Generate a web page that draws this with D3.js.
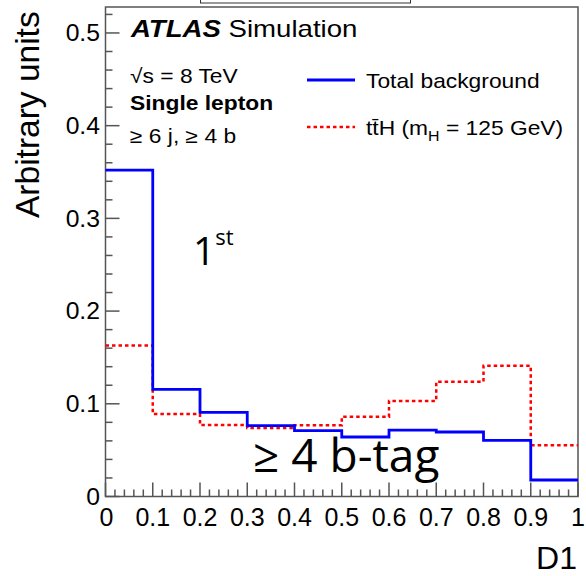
<!DOCTYPE html>
<html><head><meta charset="utf-8">
<script src="https://cdn.jsdelivr.net/npm/d3@7"></script>
<style>html,body{margin:0;padding:0;background:#fff;} svg{display:block;}</style>
</head><body>
<script>
// ---- data ----
const binEdges = [0, 0.1, 0.2, 0.3, 0.4, 0.5, 0.6, 0.7, 0.8, 0.9, 1.0];
const totalBackground = [0.352, 0.1156, 0.0908, 0.0764, 0.071, 0.0642, 0.0717, 0.0696, 0.0606, 0.0178];
const ttH = [0.163, 0.089, 0.0771, 0.0739, 0.0768, 0.086, 0.103, 0.1238, 0.141, 0.0552];
const xTicks = [0, 0.1, 0.2, 0.3, 0.4, 0.5, 0.6, 0.7, 0.8, 0.9, 1];
const xTickLabels = ["0", "0.1", "0.2", "0.3", "0.4", "0.5", "0.6", "0.7", "0.8", "0.9", "1"];
const yTicks = [0, 0.1, 0.2, 0.3, 0.4, 0.5];
const yTickLabels = ["0", "0.1", "0.2", "0.3", "0.4", "0.5"];
const legendLabels = ["Total background", "ttH"];

const W = 586, H = 576;
const L = 105.5, R = 578, T = 7, B = 496.5;
const svg = d3.select("body").append("svg").attr("width", W).attr("height", H);
const x = d3.scaleLinear().domain([0, 1]).range([L, R]);
const y = d3.scaleLinear().domain([0, 0.528]).range([B, T]);
const FONT = "'Liberation Sans', Arial, Helvetica, sans-serif";
const SX = 1.14;

function stext(g, tx, ty, str, size, opts = {}) {
  const t = g.append("text")
    .attr("transform", `translate(${tx},${ty}) scale(${opts.sx || SX},1)`)
    .attr("font-family", opts.family || FONT)
    .attr("font-size", size)
    .attr("fill", "#000")
    .attr("text-anchor", opts.anchor || "start")
    .attr("dominant-baseline", opts.baseline || "auto");
  if (opts.weight) t.attr("font-weight", opts.weight);
  if (opts.style) t.attr("font-style", opts.style);
  if (str !== null) t.text(str);
  return t;
}

// top box remnant
svg.append("rect").attr("x", 200.5).attr("y", -6).attr("width", 210).attr("height", 9)
  .attr("fill", "none").attr("stroke", "#333").attr("stroke-width", 1);

// frame
const axisCol = "#555";
svg.append("rect").attr("x", L).attr("y", T).attr("width", R - L).attr("height", B - T)
  .attr("fill", "none").attr("stroke", axisCol).attr("stroke-width", 1.5);

// y axis ticks
const yMinor = d3.range(0, 0.5281, 0.02);
svg.append("g").selectAll("line").data(yMinor).join("line")
  .attr("x1", L).attr("x2", d => L + (Math.abs(d * 10 - Math.round(d * 10)) < 1e-6 ? 14 : 7))
  .attr("y1", d => y(d)).attr("y2", d => y(d))
  .attr("stroke", axisCol).attr("stroke-width", 1.5);
// x axis ticks
const xMinor = d3.range(0, 1.0001, 0.02);
svg.append("g").selectAll("line").data(xMinor).join("line")
  .attr("x1", d => x(d)).attr("x2", d => x(d))
  .attr("y1", B).attr("y2", d => B - (Math.abs(d * 10 - Math.round(d * 10)) < 1e-6 ? 14 : 7))
  .attr("stroke", axisCol).attr("stroke-width", 1.5);

// tick labels
yTicks.forEach((v, i) => stext(svg, 100, y(v), yTickLabels[i], 24, {anchor: "end", baseline: "central", sx: 1.03}));
xTicks.forEach((v, i) => stext(svg, x(v) + (i === 0 ? 1 : 0), 526, xTickLabels[i], 25, {anchor: "middle", sx: 1.0}));

// axis titles
svg.append("text").attr("transform", `translate(39,218) rotate(-90)`)
  .attr("font-family", FONT).attr("font-size", 33.5).attr("fill", "#000").text("Arbitrary units");
stext(svg, 577, 569, "D1", 32, {anchor: "end", sx: 1.0});

// histograms
function stepData(vals) {
  const pts = vals.map((v, i) => [binEdges[i], v]);
  pts.push([binEdges[binEdges.length - 1], vals[vals.length - 1]]);
  return pts;
}
const line = d3.line().x(d => x(d[0])).y(d => y(d[1])).curve(d3.curveStepAfter);
svg.append("path").datum(stepData(ttH)).attr("d", line)
  .attr("fill", "none").attr("stroke", "#ff0000").attr("stroke-width", 2.5).attr("stroke-dasharray", "3.5,3");
svg.append("path").datum(stepData(totalBackground)).attr("d", line)
  .attr("fill", "none").attr("stroke", "#0000ff").attr("stroke-width", 2.8);

// ATLAS labels
const t1 = stext(svg, 131, 37, null, 23, {sx: 1.2});
t1.append("tspan").attr("font-weight", "bold").attr("font-style", "italic").text("ATLAS");
t1.append("tspan").text(" Simulation");
stext(svg, 130, 83, "\u221As = 8 TeV", 20);
stext(svg, 130, 110, "Single lepton", 20, {weight: "bold"});
stext(svg, 130, 143, "\u2265 6 j, \u2265 4 b", 20);

// legend
svg.append("line").attr("x1", 307).attr("x2", 355).attr("y1", 80).attr("y2", 80)
  .attr("stroke", "#0000ff").attr("stroke-width", 2.8);
svg.append("line").attr("x1", 307).attr("x2", 355).attr("y1", 127).attr("y2", 127)
  .attr("stroke", "#ff0000").attr("stroke-width", 2.5).attr("stroke-dasharray", "3.5,3");
stext(svg, 366, 88, legendLabels[0], 20);
const lt = stext(svg, 366, 135, null, 20);
lt.append("tspan").text("tt\u0304H (m");
lt.append("tspan").attr("font-size", 14).attr("dy", 6).text("H");
lt.append("tspan").attr("dy", -6).text(" = 125 GeV)");

// annotations
const OS = "'Open Sans', 'Noto Sans', sans-serif";
const a1 = svg.append("text").attr("x", 193).attr("y", 265).attr("font-family", OS).attr("fill", "#000");
a1.append("tspan").attr("font-size", 39).text("1");
a1.append("tspan").attr("font-size", 22).attr("dy", -20).text("st");
svg.append("text").attr("x", 253).attr("y", 472).attr("font-family", OS).attr("font-size", 46)
  .attr("fill", "#000").text("\u2265 4 b-tag");
</script>
</body></html>
